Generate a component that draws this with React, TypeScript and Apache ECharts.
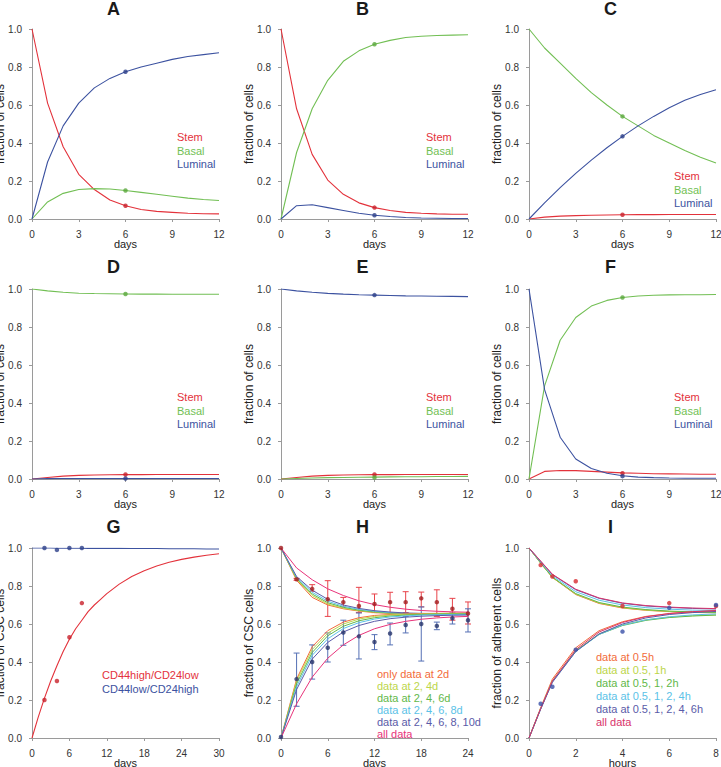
import React, { useEffect, useRef } from "react";
import * as echarts from "echarts";

const FONT = '"Liberation Sans", Arial, Helvetica, sans-serif';

const RED = "#e3323b";
const GREEN = "#72bf54";
const BLUE = "#3c52a0";
const RED_DOT = "#c8202a";
const GREEN_DOT = "#5aa83c";
const BLUE_DOT = "#2c3e88";

const H_COLORS = ["#f26b3a", "#bcd64a", "#62b84a", "#5bc2e7", "#5a5ba8", "#e8337a"];
const I_COLORS = ["#f26b3a", "#bcd64a", "#62b84a", "#5bc2e7", "#5a5ba8", "#d9336b"];

// x grids
const DAYS12 = [0, 1, 2, 3, 4, 5, 6, 7, 8, 9, 10, 11, 12];
const DAYS_G = [0, 1, 2, 3, 4, 5, 6, 7, 8, 9, 10, 11, 12, 14, 16, 18, 20, 22, 24, 26, 28, 30];
const DAYS_H = [0, 2, 4, 6, 8, 10, 12, 14, 16, 18, 20, 22, 24];
const HOURS_I = [0, 0.5, 1, 2, 3, 4, 5, 6, 7, 8];

// Panel A
const A_STEM = [1.0, 0.61, 0.38, 0.235, 0.155, 0.1, 0.07, 0.05, 0.04, 0.035, 0.03, 0.028, 0.027];
const A_BASAL = [0, 0.09, 0.135, 0.155, 0.16, 0.158, 0.15, 0.14, 0.13, 0.12, 0.11, 0.103, 0.097];
const A_LUMINAL = [0, 0.3, 0.49, 0.61, 0.69, 0.74, 0.775, 0.8, 0.82, 0.84, 0.855, 0.865, 0.875];
const A_DOTS = [0.07, 0.15, 0.775];
// Panel B
const B_STEM = [1.0, 0.58, 0.34, 0.205, 0.13, 0.085, 0.06, 0.045, 0.035, 0.03, 0.027, 0.025, 0.025];
const B_BASAL = [0, 0.35, 0.58, 0.73, 0.83, 0.885, 0.92, 0.94, 0.955, 0.962, 0.966, 0.968, 0.97];
const B_LUMINAL = [0, 0.07, 0.075, 0.06, 0.045, 0.03, 0.02, 0.013, 0.008, 0.005, 0.004, 0.003, 0.003];
const B_DOTS = [0.06, 0.92, 0.02];
// Panel C
const C_STEM = [0, 0.01, 0.015, 0.018, 0.02, 0.021, 0.022, 0.023, 0.023, 0.024, 0.024, 0.024, 0.024];
const C_BASAL = [1.0, 0.9, 0.82, 0.74, 0.665, 0.6, 0.54, 0.49, 0.44, 0.4, 0.36, 0.325, 0.295];
const C_LUMINAL = [0, 0.085, 0.165, 0.24, 0.31, 0.375, 0.435, 0.49, 0.54, 0.585, 0.625, 0.655, 0.68];
const C_DOTS = [0.022, 0.54, 0.435];
// Panel D
const D_STEM = [0, 0.008, 0.015, 0.019, 0.021, 0.022, 0.023, 0.023, 0.024, 0.024, 0.024, 0.024, 0.024];
const D_BASAL = [1.0, 0.99, 0.983, 0.978, 0.976, 0.975, 0.974, 0.973, 0.973, 0.972, 0.972, 0.972, 0.972];
const D_LUMINAL = [0, 0.002, 0.003, 0.003, 0.003, 0.003, 0.003, 0.003, 0.003, 0.003, 0.003, 0.003, 0.003];
const D_DOTS = [0.024, 0.974, 0.003];
// Panel E
const E_STEM = [0, 0.008, 0.015, 0.019, 0.021, 0.022, 0.023, 0.023, 0.024, 0.024, 0.024, 0.024, 0.024];
const E_BASAL = [0, 0.003, 0.005, 0.007, 0.008, 0.009, 0.01, 0.011, 0.012, 0.012, 0.013, 0.013, 0.014];
const E_LUMINAL = [1.0, 0.99, 0.983, 0.977, 0.973, 0.97, 0.968, 0.966, 0.964, 0.963, 0.962, 0.961, 0.96];
const E_DOTS = [0.024, 0.008, 0.968];
// Panel F
const F_STEM = [0, 0.04, 0.045, 0.044, 0.04, 0.036, 0.032, 0.03, 0.028, 0.027, 0.026, 0.025, 0.025];
const F_BASAL = [0, 0.49, 0.73, 0.85, 0.91, 0.94, 0.955, 0.963, 0.967, 0.969, 0.97, 0.97, 0.971];
const F_LUMINAL = [1.0, 0.47, 0.22, 0.105, 0.055, 0.03, 0.017, 0.01, 0.007, 0.005, 0.004, 0.004, 0.004];
const F_DOTS = [0.03, 0.955, 0.015];
// Panel G
const G_HIGH = [0, 0.11, 0.21, 0.3, 0.38, 0.455, 0.52, 0.575, 0.62, 0.665, 0.7, 0.73, 0.76, 0.81, 0.85, 0.88, 0.905, 0.925, 0.94, 0.952, 0.962, 0.97];
const G_LOW = [1.0, 1.0, 1.0, 1.0, 0.999, 0.999, 0.999, 0.999, 0.999, 0.998, 0.998, 0.998, 0.998, 0.998, 0.997, 0.997, 0.997, 0.996, 0.996, 0.996, 0.995, 0.995];
const G_HIGH_PTS = [[2, 0.2], [4, 0.3], [6, 0.53], [8, 0.71]];
const G_LOW_PTS = [[2, 1.0], [4, 0.99], [6, 1.0], [8, 1.0]];
// Panel H
const H_UPPER = [
  [1, 0.83, 0.74, 0.7, 0.68, 0.668, 0.66, 0.655, 0.652, 0.65, 0.65, 0.65, 0.65],
  [1, 0.835, 0.75, 0.705, 0.683, 0.67, 0.662, 0.657, 0.654, 0.652, 0.651, 0.65, 0.65],
  [1, 0.84, 0.758, 0.712, 0.688, 0.673, 0.664, 0.658, 0.655, 0.653, 0.652, 0.651, 0.651],
  [1, 0.845, 0.767, 0.72, 0.693, 0.677, 0.667, 0.66, 0.656, 0.654, 0.653, 0.652, 0.652],
  [1, 0.85, 0.778, 0.73, 0.7, 0.682, 0.67, 0.663, 0.658, 0.656, 0.655, 0.654, 0.653],
  [1, 0.895, 0.833, 0.785, 0.75, 0.722, 0.702, 0.688, 0.678, 0.671, 0.667, 0.664, 0.662],
];
const H_LOWER = [
  [0, 0.31, 0.48, 0.565, 0.61, 0.633, 0.645, 0.65, 0.653, 0.655, 0.656, 0.657, 0.657],
  [0, 0.3, 0.465, 0.552, 0.6, 0.626, 0.64, 0.647, 0.651, 0.653, 0.654, 0.655, 0.655],
  [0, 0.285, 0.45, 0.538, 0.588, 0.617, 0.633, 0.642, 0.647, 0.65, 0.652, 0.653, 0.653],
  [0, 0.27, 0.435, 0.522, 0.576, 0.607, 0.626, 0.637, 0.643, 0.647, 0.649, 0.65, 0.651],
  [0, 0.255, 0.415, 0.503, 0.558, 0.592, 0.614, 0.628, 0.636, 0.641, 0.644, 0.646, 0.647],
  [0, 0.18, 0.32, 0.42, 0.49, 0.54, 0.575, 0.598, 0.614, 0.625, 0.632, 0.637, 0.64],
];
const H_UP_MEAN = [1.0, 0.835, 0.785, 0.73, 0.715, 0.695, 0.705, 0.715, 0.715, 0.735, 0.715, 0.68, 0.655];
const H_UP_LO = [1.0, 0.83, 0.772, 0.64, 0.69, 0.66, 0.66, 0.66, 0.66, 0.69, 0.64, 0.62, 0.6];
const H_UP_HI = [1.0, 0.84, 0.807, 0.828, 0.74, 0.793, 0.758, 0.767, 0.77, 0.768, 0.78, 0.735, 0.716];
const H_LO_MEAN = [0.005, 0.31, 0.4, 0.475, 0.555, 0.535, 0.505, 0.55, 0.595, 0.6, 0.59, 0.63, 0.62];
const H_LO_LO = [0.005, 0.167, 0.31, 0.4, 0.488, 0.416, 0.465, 0.49, 0.553, 0.405, 0.57, 0.6, 0.558];
const H_LO_HI = [0.005, 0.447, 0.49, 0.553, 0.62, 0.658, 0.544, 0.605, 0.64, 0.69, 0.61, 0.658, 0.68];
// Panel I
const I_UPPER = [
  [1, 0.92, 0.845, 0.755, 0.708, 0.684, 0.672, 0.665, 0.661, 0.659],
  [1, 0.92, 0.845, 0.757, 0.71, 0.686, 0.673, 0.666, 0.662, 0.66],
  [1, 0.921, 0.847, 0.76, 0.713, 0.689, 0.676, 0.668, 0.664, 0.662],
  [1, 0.925, 0.853, 0.77, 0.725, 0.7, 0.686, 0.678, 0.673, 0.671],
  [1, 0.93, 0.86, 0.78, 0.735, 0.709, 0.695, 0.687, 0.682, 0.679],
  [1, 0.931, 0.862, 0.783, 0.737, 0.711, 0.697, 0.689, 0.684, 0.681],
];
const I_LOWER = [
  [0, 0.16, 0.31, 0.475, 0.565, 0.612, 0.64, 0.655, 0.664, 0.669],
  [0, 0.155, 0.3, 0.46, 0.548, 0.595, 0.622, 0.636, 0.644, 0.648],
  [0, 0.155, 0.298, 0.458, 0.545, 0.592, 0.619, 0.634, 0.642, 0.647],
  [0, 0.153, 0.295, 0.455, 0.545, 0.594, 0.622, 0.638, 0.648, 0.653],
  [0, 0.152, 0.293, 0.455, 0.548, 0.6, 0.632, 0.65, 0.66, 0.666],
  [0, 0.155, 0.3, 0.465, 0.558, 0.608, 0.638, 0.655, 0.665, 0.671],
];
const I_RED_PTS = [[0.5, 0.91], [1, 0.85], [2, 0.825], [4, 0.695], [6, 0.71], [8, 0.695]];
const I_BLUE_PTS = [[0.5, 0.18], [1, 0.27], [2, 0.465], [4, 0.56], [6, 0.685], [8, 0.7]];

const TITLES = ["A", "B", "C", "D", "E", "F", "G", "H", "I"];
const X_MAX = [12, 12, 12, 12, 12, 12, 30, 24, 8];
const X_INT = [3, 3, 3, 3, 3, 3, 6, 6, 2];
const X_NAMES = ["days", "days", "days", "days", "days", "days", "days", "days", "hours"];
const Y_NAMES = [
  "fraction of cells", "fraction of cells", "fraction of cells",
  "fraction of cells", "fraction of cells", "fraction of cells",
  "fraction of CSC cells", "fraction of CSC cells", "fraction of adherent cells",
];
const SCL_LABELS = ["Stem", "Basal", "Luminal"];
const G_LABELS = ["CD44high/CD24low", "CD44low/CD24high"];
const H_LABELS = ["only data at 2d", "data at 2, 4d", "data at 2, 4, 6d", "data at 2, 4, 6, 8d", "data at 2, 4, 6, 8, 10d", "all data"];
const I_LABELS = ["data at 0.5h", "data at 0.5, 1h", "data at 0.5, 1, 2h", "data at 0.5, 1, 2, 4h", "data at 0.5, 1, 2, 4, 6h", "all data"];

const COL_LEFT = [32, 281, 529];
const ROW_TOP = [29, 289, 548];
const PW = 187;
const PH = 190;

function buildOption() {
  const grid: any[] = [];
  const xAxis: any[] = [];
  const yAxis: any[] = [];
  const series: any[] = [];
  const graphic: any[] = [];

  for (let i = 0; i < 9; i++) {
    const r = Math.floor(i / 3);
    const c = i % 3;
    grid.push({
      left: COL_LEFT[c], top: ROW_TOP[r], width: PW, height: PH,
      containLabel: false, outerBoundsMode: "none",
    });
    xAxis.push({
      gridIndex: i, type: "value", min: 0, max: X_MAX[i], interval: X_INT[i], offset: 9,
      axisLine: { show: true, lineStyle: { color: "#9a9a9a", width: 1 } },
      axisTick: { show: true, length: 3, lineStyle: { color: "#9a9a9a" } },
      axisLabel: { fontSize: 10, color: "#333", margin: 1, fontFamily: FONT, showMaxLabel: true, showMinLabel: true },
      splitLine: { show: false },
      name: X_NAMES[i], nameLocation: "middle", nameGap: 10, nameMoveOverlap: false,
      nameTextStyle: { fontSize: 11, color: "#222", fontFamily: FONT },
    });
    yAxis.push({
      gridIndex: i, type: "value", min: 0, max: 1, interval: 0.2, offset: 7,
      axisLine: { show: true, lineStyle: { color: "#9a9a9a", width: 1 } },
      axisTick: { show: true, length: 3, lineStyle: { color: "#9a9a9a" } },
      axisLabel: { fontSize: 10, color: "#333", margin: 3, fontFamily: FONT, formatter: (v: number) => v.toFixed(1) },
      splitLine: { show: false },
      name: Y_NAMES[i], nameLocation: "middle", nameGap: 19, nameMoveOverlap: false,
      nameTextStyle: { fontSize: 12, color: "#222", fontFamily: FONT },
    });
    const tx = COL_LEFT[c] + PW / 2 - 12;
    const ty = [8.5, 267, 527][r];
    graphic.push({
      type: "text", x: tx, y: ty,
      style: { text: TITLES[i], font: `bold 18px ${FONT}`, fill: "#1a1a1a", textAlign: "center", textVerticalAlign: "middle" },
    });
  }

  const line = (idx: number, xs: number[], ys: number[], color: string, width = 1.1) => ({
    type: "line", xAxisIndex: idx, yAxisIndex: idx, showSymbol: false, silent: true,
    smooth: false,
    lineStyle: { color, width }, itemStyle: { color },
    data: xs.map((x, j) => [x, ys[j]]),
  });
  const dots = (idx: number, pts: number[][], color: string, size = 4.5) => ({
    type: "scatter", xAxisIndex: idx, yAxisIndex: idx, symbol: "circle", symbolSize: size, silent: true,
    itemStyle: { color }, data: pts, z: 5,
  });
  const errBars = (idx: number, xs: number[], lo: number[], hi: number[], color: string) => ({
    type: "custom", xAxisIndex: idx, yAxisIndex: idx, silent: true, z: 3,
    data: xs.map((x, j) => [x, lo[j], hi[j]]),
    encode: { x: 0, y: [1, 2] },
    renderItem: (params: any, api: any) => {
      const x = api.value(0);
      const p1 = api.coord([x, api.value(1)]);
      const p2 = api.coord([x, api.value(2)]);
      if (Math.abs(p1[1] - p2[1]) < 1.5) return { type: "group", children: [] };
      const w = 3;
      const st = { stroke: color, lineWidth: 1 };
      return {
        type: "group",
        children: [
          { type: "line", shape: { x1: p1[0], y1: p1[1], x2: p2[0], y2: p2[1] }, style: st },
          { type: "line", shape: { x1: p1[0] - w, y1: p1[1], x2: p1[0] + w, y2: p1[1] }, style: st },
          { type: "line", shape: { x1: p2[0] - w, y1: p2[1], x2: p2[0] + w, y2: p2[1] }, style: st },
        ],
      };
    },
  });

  const scl = [
    [A_STEM, A_BASAL, A_LUMINAL, A_DOTS],
    [B_STEM, B_BASAL, B_LUMINAL, B_DOTS],
    [C_STEM, C_BASAL, C_LUMINAL, C_DOTS],
    [D_STEM, D_BASAL, D_LUMINAL, D_DOTS],
    [E_STEM, E_BASAL, E_LUMINAL, E_DOTS],
    [F_STEM, F_BASAL, F_LUMINAL, F_DOTS],
  ] as any[];
  const legendPos = [
    [177, 137], [426, 137], [674, 176],
    [177, 397], [426, 397], [674, 397],
  ];
  scl.forEach((p, i) => {
    const [stem, basal, lum, d] = p;
    series.push(line(i, DAYS12, stem, RED));
    series.push(line(i, DAYS12, basal, GREEN));
    series.push(line(i, DAYS12, lum, BLUE));
    series.push(dots(i, [[6, d[0]]], RED_DOT));
    series.push(dots(i, [[6, d[1]]], GREEN_DOT));
    series.push(dots(i, [[6, d[2]]], BLUE_DOT));
    [RED, GREEN, BLUE].forEach((col, k) => {
      graphic.push({
        type: "text", x: legendPos[i][0], y: legendPos[i][1] + k * 13.5,
        style: { text: SCL_LABELS[k], font: `11px ${FONT}`, fill: col, textAlign: "left", textVerticalAlign: "middle" },
      });
    });
  });

  // G
  series.push(line(6, DAYS_G, G_HIGH, RED));
  series.push(line(6, DAYS_G, G_LOW, BLUE));
  series.push(dots(6, G_HIGH_PTS, RED_DOT));
  series.push(dots(6, G_LOW_PTS, BLUE_DOT));
  [RED, BLUE].forEach((col, k) => {
    graphic.push({
      type: "text", x: 102, y: 675 + k * 13.5,
      style: { text: G_LABELS[k], font: `11px ${FONT}`, fill: col, textAlign: "left", textVerticalAlign: "middle" },
    });
  });

  // H
  H_UPPER.forEach((ys, k) => series.push(line(7, DAYS_H, ys, H_COLORS[k], 1)));
  H_LOWER.forEach((ys, k) => series.push(line(7, DAYS_H, ys, H_COLORS[k], 1)));
  series.push(errBars(7, DAYS_H, H_UP_LO, H_UP_HI, "#e8434a"));
  series.push(errBars(7, DAYS_H, H_LO_LO, H_LO_HI, "#5570b5"));
  series.push(dots(7, DAYS_H.map((x, j) => [x, H_UP_MEAN[j]]), "#a31b1e", 4.5));
  series.push(dots(7, DAYS_H.map((x, j) => [x, H_LO_MEAN[j]]), "#27346b", 4.5));
  H_LABELS.forEach((t, k) => {
    graphic.push({
      type: "text", x: 377, y: 674 + k * 12,
      style: { text: t, font: `11px ${FONT}`, fill: H_COLORS[k], textAlign: "left", textVerticalAlign: "middle" },
    });
  });

  // I
  I_UPPER.forEach((ys, k) => series.push(line(8, HOURS_I, ys, I_COLORS[k], 1)));
  I_LOWER.forEach((ys, k) => series.push(line(8, HOURS_I, ys, I_COLORS[k], 1)));
  series.push(dots(8, I_RED_PTS, "#d82a30"));
  series.push(dots(8, I_BLUE_PTS, "#3a50a8"));
  I_LABELS.forEach((t, k) => {
    graphic.push({
      type: "text", x: 596, y: 657 + k * 13,
      style: { text: t, font: `11px ${FONT}`, fill: I_COLORS[k], textAlign: "left", textVerticalAlign: "middle" },
    });
  });

  return {
    animation: false,
    backgroundColor: "#ffffff",
    textStyle: { fontFamily: FONT },
    grid, xAxis, yAxis, series, graphic,
  };
}

export default function App() {
  const ref = useRef<HTMLDivElement>(null);
  useEffect(() => {
    if (!ref.current) return;
    const chart = echarts.init(ref.current, undefined, { renderer: "svg" });
    chart.setOption(buildOption() as any);
    return () => chart.dispose();
  }, []);
  return (
    <div
      ref={ref}
      style={{ position: "absolute", left: 0, top: 0, width: 721, height: 767, background: "#fff" }}
    />
  );
}
